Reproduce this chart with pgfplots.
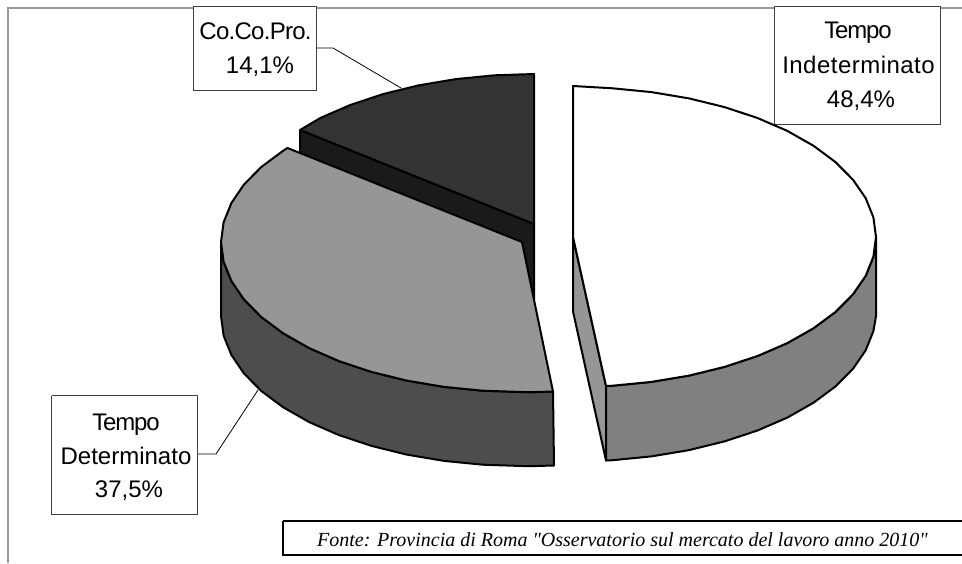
\documentclass[border=0pt]{standalone}
\usepackage{fontspec}
\setmainfont{Liberation Sans}
\newfontfamily\srcfont{Liberation Serif}
\usepackage{pgfplots}
\pgfplotsset{compat=1.18}
\definecolor{framegray}{HTML}{999999}
\definecolor{topgray}{HTML}{969696}
\definecolor{walldark}{HTML}{4D4D4D}
\definecolor{topdark}{HTML}{333333}
\definecolor{innerdark}{HTML}{1A1A1A}
\definecolor{wallmid}{HTML}{808080}
\tikzset{
  lbl/.style={anchor=base,inner sep=0pt,font=\fontsize{18}{20}\selectfont,text=black},
}
\begin{document}
\begin{tikzpicture}
\begin{axis}[
  at={(0,0)},anchor=south west,
  scale only axis,
  width=721.5pt,height=422.25pt,
  xmin=0,xmax=962,ymin=0,ymax=563,y dir=reverse,
  hide axis,
]
% page
\addplot[draw=none,fill=white] coordinates {(0,0)(962,0)(962,563)(0,563)} \closedcycle;
% frame
\addplot[framegray,line width=1pt] coordinates {(962,8)(8,8)(8,563)};
% label boxes
\addplot[fill=white,draw=black!75,line width=0.7pt] coordinates {(774,6)(940,6)(940,124)(774,124)(774,6)};
\addplot[fill=white,draw=black!75,line width=0.7pt] coordinates {(193.5,6)(316,6)(316,90)(193.5,90)(193.5,6)};
\addplot[fill=white,draw=black!75,line width=0.7pt] coordinates {(51.7,395.7)(197.7,395.7)(197.7,514)(51.7,514)(51.7,395.7)};
\addplot[fill=white,draw=black,line width=1.2pt] coordinates {(282.7,521)(968,521)(968,555)(282.7,555)(282.7,521)};
% leaders
\addplot[black,line width=0.6pt] coordinates {(316,48)(333,48)(401,88)};
\addplot[black,line width=0.6pt] coordinates {(198,454)(216,454)(258,390)};
% Co.Co.Pro. inner wall
\addplot[fill=innerdark,draw=black,line width=1.5pt] coordinates {(300,130)(534,224)(534,298)(300,204)(300,130)};
% Co.Co.Pro. top
\addplot[fill=topdark,draw=black,line width=1.5pt,line join=round] coordinates {
 (534,224)(300,130)(320.5,117.9)(350.2,105)(383,94.1)(418.4,85.4)(455.8,79.1)(494.6,75.3)(534,74)(534,224)};
% Tempo Determinato wall
\addplot[fill=walldark,draw=black,line width=1.5pt,line join=round] coordinates {
 (553,391.5)(537,392)(522,392)(482.7,390.7)(444.1,386.9)(406.8,380.6)(371.5,371.9)(338.8,361)(309.2,348.1)(283.2,333.3)(261.3,317)(243.9,299.4)(231.3,280.8)(223.6,261.6)(221,242)
 (221,316)(223.6,335.6)(231.3,354.8)(243.9,373.4)(261.3,391)(283.2,407.3)(309.2,422.1)(338.8,435)(371.5,445.9)(406.8,454.6)(444.1,460.9)(482.7,464.7)(522,466)(537,466)(554,465.5)(553,391.5)};
% Tempo Determinato top
\addplot[fill=topgray,draw=black,line width=1.5pt,line join=round] coordinates {
 (522,242)(287.5,148)(283.2,150.7)(261.3,167)(243.9,184.6)(231.3,203.2)(223.6,222.4)(221,242)(223.6,261.6)(231.3,280.8)(243.9,299.4)(261.3,317)(283.2,333.3)(309.2,348.1)(338.8,361)(371.5,371.9)(406.8,380.6)(444.1,386.9)(482.7,390.7)(522,392)(537,392)(553,391.5)(522,242)};
% Tempo Indeterminato inner wall
\addplot[fill=topgray,draw=black,line width=1.5pt,line join=round] coordinates {
 (573,237)(606,386)(606,460.5)(573,311.5)(573,237)};
% Tempo Indeterminato outer wall
\addplot[fill=wallmid,draw=black,line width=1.5pt,line join=round] coordinates {
 (876,237)(873.4,256.6)(865.7,275.8)(852.9,294.4)(835.4,312)(813.4,328.3)(787.3,343.1)(757.5,356)(724.5,366.9)(689,375.6)(651.4,381.9)(612.5,385.7)(606,386)
 (606,460.5)(612.5,460.2)(651.4,456.4)(689,450.1)(724.5,441.4)(757.5,430.5)(787.3,417.6)(813.4,402.8)(835.4,386.5)(852.9,368.9)(865.7,350.3)(873.4,331.1)(876,316)(876,237)};
% Tempo Indeterminato top
\addplot[fill=white,draw=black,line width=1.5pt,line join=round] coordinates {
 (573,237)(573,86)(612.5,88.3)(651.4,92.1)(689,98.4)(724.5,107.1)(757.5,118)(787.3,130.9)(813.4,145.7)(835.4,162)(852.9,179.6)(865.7,198.2)(873.4,217.4)(876,237)(873.4,256.6)(865.7,275.8)(852.9,294.4)(835.4,312)(813.4,328.3)(787.3,343.1)(757.5,356)(724.5,366.9)(689,375.6)(651.4,381.9)(612.5,385.7)(606,386)(573,237)};
% labels
\node[lbl] at (axis cs:858,38.5) {\addfontfeature{LetterSpace=-5}Tempo};
\node[lbl] at (axis cs:858.5,74) {\addfontfeature{LetterSpace=2}Indeterminato};
\node[lbl] at (axis cs:861,108) {48,4\%};
\node[lbl] at (axis cs:255.5,40) {\addfontfeature{LetterSpace=-3}Co.Co.Pro.};
\node[lbl] at (axis cs:260,74) {14,1\%};
\node[lbl] at (axis cs:126,430) {\addfontfeature{LetterSpace=-5}Tempo};
\node[lbl] at (axis cs:126,464) {Determinato};
\node[lbl] at (axis cs:129,497) {37,5\%};
\node[anchor=base,inner sep=0pt,font=\srcfont\itshape\fontsize{15}{17}\selectfont] at (axis cs:622.5,546) {Fonte: Provincia di Roma "Osservatorio sul mercato del lavoro anno 2010"};
\end{axis}
\end{tikzpicture}
\end{document}
